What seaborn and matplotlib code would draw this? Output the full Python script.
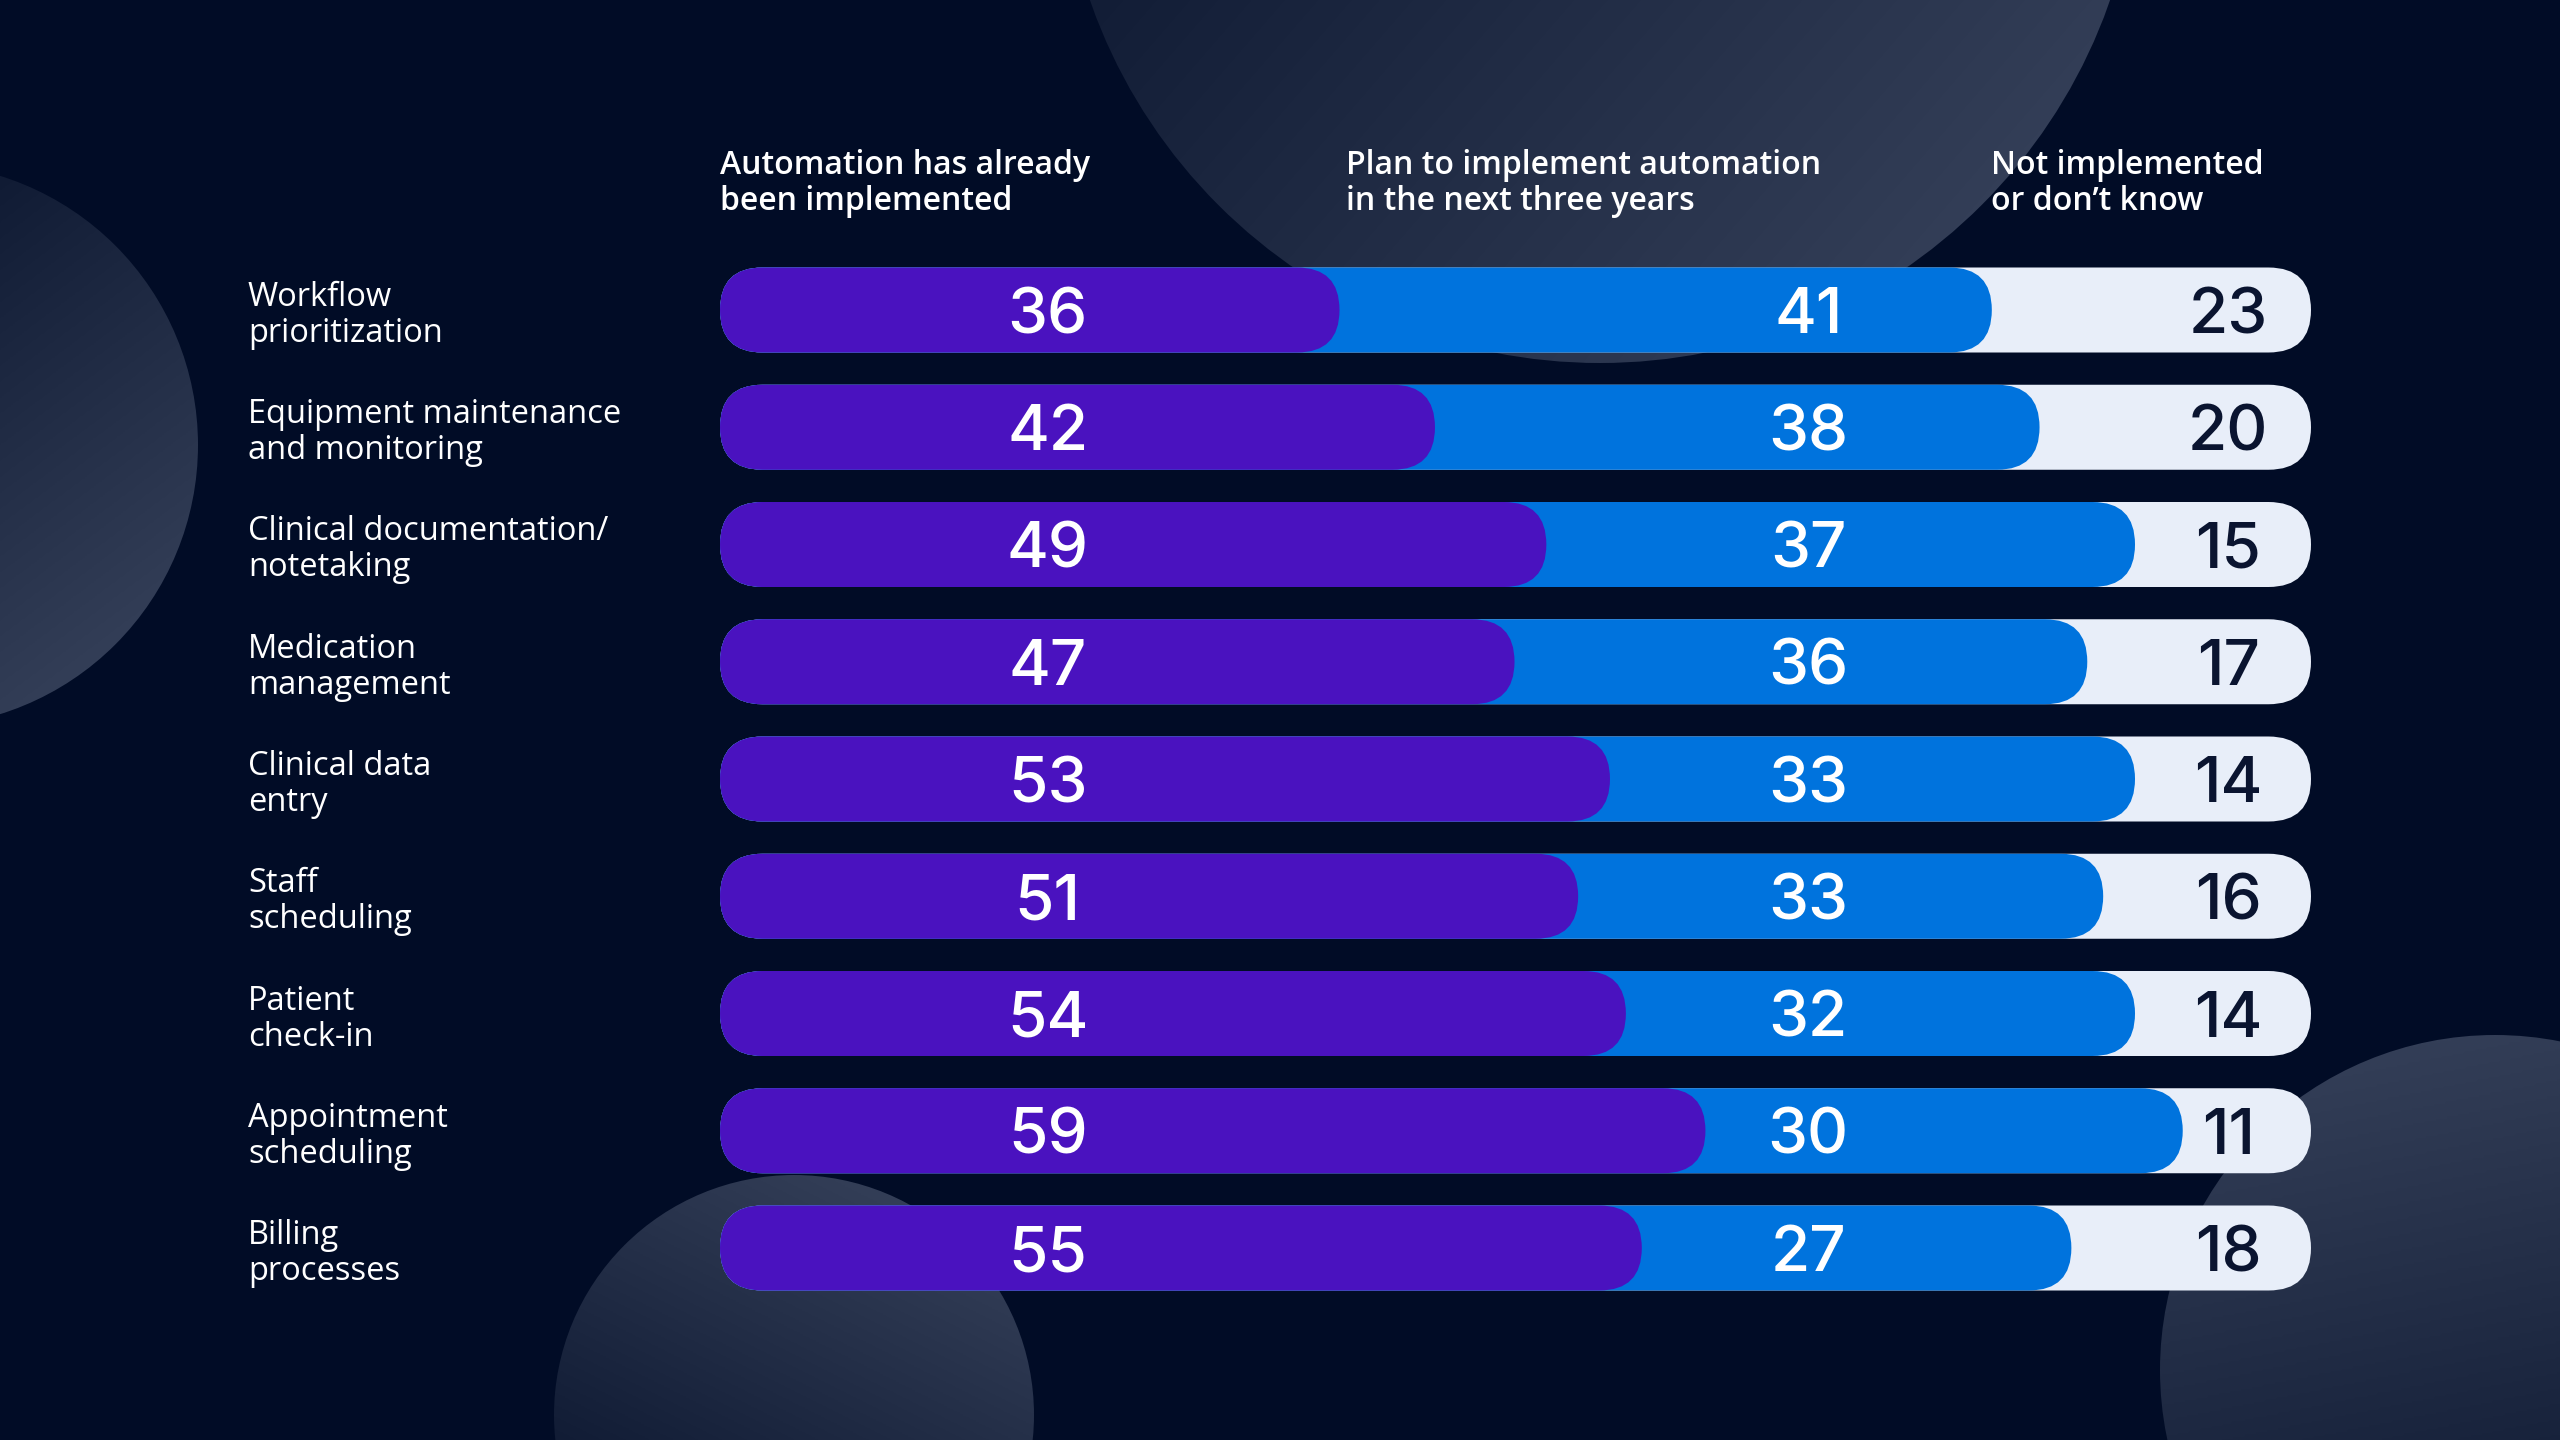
import numpy as np
import pandas as pd
import matplotlib
matplotlib.use("Agg")
import matplotlib.pyplot as plt
from matplotlib.patches import FancyBboxPatch, Circle
from matplotlib.colors import LinearSegmentedColormap
import seaborn as sns

# --- data -------------------------------------------------------------
categories = [
    "Workflow\nprioritization",
    "Equipment maintenance\nand monitoring",
    "Clinical documentation/\nnotetaking",
    "Medication\nmanagement",
    "Clinical data\nentry",
    "Staff\nscheduling",
    "Patient\ncheck-in",
    "Appointment\nscheduling",
    "Billing\nprocesses",
]
implemented = [36, 42, 49, 47, 53, 51, 54, 59, 55]
planned = [41, 38, 37, 36, 33, 33, 32, 30, 27]
not_implemented = [23, 20, 15, 17, 14, 16, 14, 11, 18]
series_names = [
    "Automation has already\nbeen implemented",
    "Plan to implement automation\nin the next three years",
    "Not implemented\nor don\u2019t know",
]

# --- style ------------------------------------------------------------
BG = "#010c26"
PURPLE = "#4a12bf"
BLUE = "#0073dd"
LIGHT = "#e8eef9"
DARK_TXT = "#0a1430"
W, H = 2560, 1440

sns.set_theme(style="white")
plt.rcParams["font.family"] = ["Open Sans", "DejaVu Sans"]

df = pd.DataFrame({
    "category": categories,
    "implemented": implemented,
    "planned": planned,
    "not_implemented": not_implemented,
})
df["cum2"] = df["implemented"] + df["planned"]
df["total"] = (df["cum2"] + df["not_implemented"]).clip(upper=100)

fig = plt.figure(figsize=(W / 100, H / 100), dpi=100)
fig.patch.set_facecolor(BG)

# background layer in pixel coordinates
bg = fig.add_axes([0, 0, 1, 1], zorder=0)
bg.set_facecolor(BG)
bg.axis("off")

cmap = LinearSegmentedColormap.from_list("glow", ["#07122b", "#333e57"])
circles = [
    # cx, cy, r, light direction (dx, dy)
    (1600, -177, 540, 0.75, 0.65),
    (-84, 445, 282, 0.6, 0.8),
    (794, 1415, 240, 0.45, -0.9),
    (2495, 1370, 335, -0.2, -1.0),
]
for cx, cy, r, dx, dy in circles:
    yy, xx = np.mgrid[cy - r:cy + r:300j, cx - r:cx + r:300j]
    t = ((xx - cx) * dx + (yy - cy) * dy) / (r * np.hypot(dx, dy))
    t = np.clip((t + 1) / 2, 0, 1)
    im = bg.imshow(t, extent=(cx - r, cx + r, cy + r, cy - r), cmap=cmap,
                   vmin=0, vmax=1, interpolation="bilinear", aspect="auto")
    circ = Circle((cx, cy), r, facecolor="none", edgecolor="none")
    bg.add_patch(circ)
    im.set_clip_path(circ)
bg.set_xlim(0, W)
bg.set_ylim(H, 0)

# main bar axes, placed so the bars land where the reference has them
bar_left, bar_right = 720, 2311
row_top, row_bottom = 310, 1248
step = (row_bottom - row_top) / (len(categories) - 1)
ax_top = row_top - step / 2
ax_h = step * len(categories)
ax = fig.add_axes([bar_left / W, 1 - (ax_top + ax_h) / H,
                   (bar_right - bar_left) / W, ax_h / H], zorder=2)
ax.patch.set_alpha(0)

bar_h = 0.725
for col, color in [("total", LIGHT), ("cum2", BLUE), ("implemented", PURPLE)]:
    sns.barplot(data=df, x=col, y="category", color=color, saturation=1,
                width=bar_h, errorbar=None, orient="h", ax=ax)

ax.set_xlim(0, 100)
ax.set_ylim(len(categories) - 0.5, -0.5)

# turn the flat rectangles into pills
px_x = (bar_right - bar_left) / 100
px_y = step
aspect = px_x / px_y
radius = bar_h * px_y / 2 / px_x
n = len(categories)
old = list(ax.patches)
for i, p in enumerate(old):
    ext = 0 if i < n else radius * 1.1
    pill = FancyBboxPatch((p.get_x(), p.get_y()), p.get_width() + ext, p.get_height(),
                          boxstyle=f"round,pad=0,rounding_size={radius}",
                          mutation_aspect=aspect, facecolor=p.get_facecolor(),
                          edgecolor="none", zorder=2)
    p.remove()
    ax.add_patch(pill)

# value labels (baseline placed so the digits sit centred on the bar)
num_font = ["Inter", "DejaVu Sans"]
num_size = 46
base_off = 0.727 * num_size * 100 / 72 / 2 / px_y
for i in range(n):
    yb = i + base_off
    ax.text(20.6, yb, str(implemented[i]), ha="center", va="baseline", color="white",
            fontsize=num_size, family=num_font, fontweight="medium", zorder=5)
    ax.text(68.4, yb, str(planned[i]), ha="center", va="baseline", color="white",
            fontsize=num_size, family=num_font, fontweight="medium", zorder=5)
    ax.text(94.8, yb, str(not_implemented[i]), ha="center", va="baseline", color=DARK_TXT,
            fontsize=num_size, family=num_font, fontweight="medium", zorder=5)

# category labels, left aligned
ax.set_xlabel("")
ax.set_ylabel("")
ax.set_xticks([])
ax.tick_params(axis="y", length=0, pad=(bar_left - 248) * 0.72)
for lab in ax.get_yticklabels():
    lab.set_ha("left")
    lab.set_color("white")
    lab.set_fontsize(23.5)
    lab.set_fontweight("medium")
    lab.set_linespacing(1.12)
sns.despine(ax=ax, left=True, bottom=True)

# column headers
for x, name in zip([720, 1346, 1991], series_names):
    bg.text(x, 183, name, ha="left", va="center", color="white", fontsize=23,
            fontweight="semibold", linespacing=1.12)

fig.savefig("out.png", dpi=100, facecolor=BG)
